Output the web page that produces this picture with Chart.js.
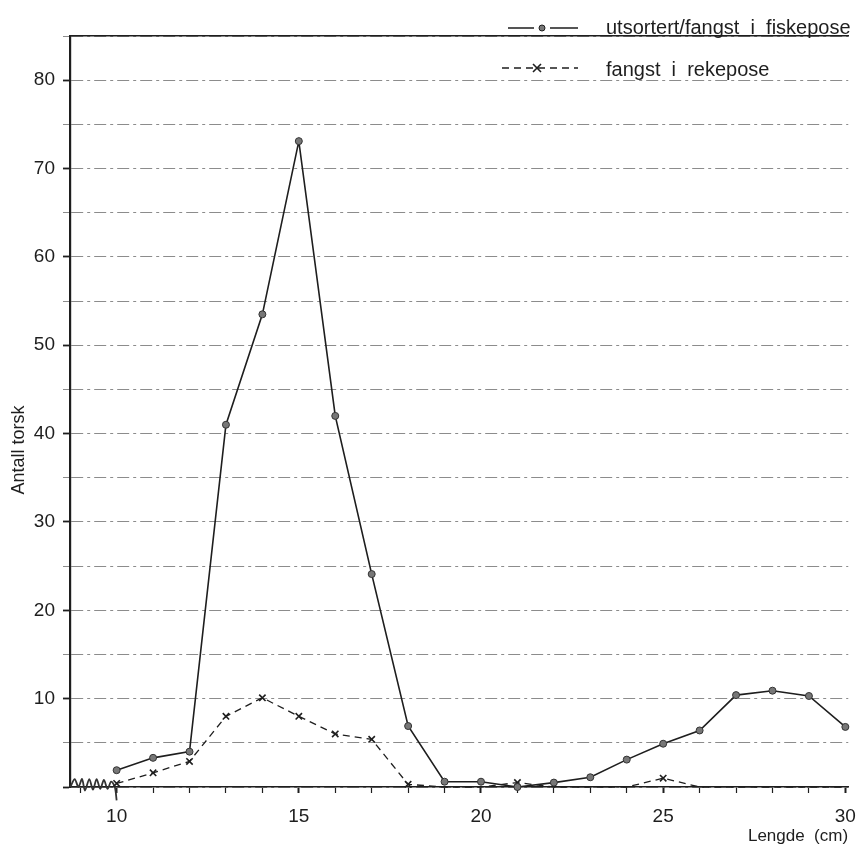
<!DOCTYPE html>
<html>
<head>
<meta charset="utf-8">
<script src="https://cdn.jsdelivr.net/npm/chart.js@4.4.0/dist/chart.umd.min.js"></script>
<style>
  html, body { margin: 0; padding: 0; background: #fff; }
  #wrap { width: 868px; height: 856px; position: relative; }
</style>
</head>
<body>
<div id="wrap"><canvas id="myChart"></canvas></div>
<script>
// lengths (cm)
var lengths = [10, 11, 12, 13, 14, 15, 16, 17, 18, 19, 20, 21, 22, 23, 24, 25, 26, 27, 28, 29, 30];
// utsortert/fangst i fiskepose
var fiskepose = [1.9, 3.3, 4.0, 41.0, 53.5, 73.1, 42.0, 24.1, 6.9, 0.6, 0.6, 0, 0.5, 1.1, 3.1, 4.9, 6.4, 10.4, 10.9, 10.3, 6.8];
// fangst i rekepose
var rekepose = [0.4, 1.6, 2.9, 8.0, 10.1, 8.0, 6.0, 5.4, 0.3, 0, 0, 0.5, 0, 0, 0, 1.0, 0, 0, 0, 0, 0];
// little scribble on the baseline left of 10 cm
var scribbleX = [8.73, 8.85, 8.95, 9.05, 9.13, 9.25, 9.35, 9.45, 9.55, 9.65, 9.75, 9.85, 9.95, 10];
var scribbleY = [0, 0.9, 0, 0.9, -0.4, 0.9, -0.3, 0.9, -0.2, 0.8, -0.2, 0.6, 0, -1.5];

var yTicks = [0, 5, 10, 15, 20, 25, 30, 35, 40, 45, 50, 55, 60, 65, 70, 75, 80, 85];
var xTicks = [9, 10, 11, 12, 13, 14, 15, 16, 17, 18, 19, 20, 21, 22, 23, 24, 25, 26, 27, 28, 29, 30];

var legendLabels = ['utsortert/fangst  i  fiskepose', 'fangst  i  rekepose'];
var xTitle = 'Lengde  (cm)';
var yTitle = 'Antall torsk';

var FONT = "'Liberation Sans', Arial, Helvetica, sans-serif";
var INK = '#1e1e1e';

function pairs(xs, ys) {
    return xs.map(function (x, i) { return {x: x, y: ys[i]}; });
}

var extras = {
    id: 'extras',
    afterDraw: function (chart) {
        var ctx = chart.ctx;
        ctx.save();
        ctx.fillStyle = INK;
        ctx.strokeStyle = INK;
        ctx.font = '20px ' + FONT;
        ctx.textBaseline = 'middle';
        ctx.textAlign = 'left';

        // legend row 1: solid line with dot
        ctx.lineWidth = 1.4;
        ctx.beginPath(); ctx.moveTo(508, 28); ctx.lineTo(534, 28); ctx.moveTo(550, 28); ctx.lineTo(578, 28); ctx.stroke();
        ctx.beginPath(); ctx.arc(542, 28, 3, 0, Math.PI * 2);
        ctx.fillStyle = '#777'; ctx.fill(); ctx.lineWidth = 1; ctx.stroke();
        ctx.fillStyle = INK;
        ctx.fillText(legendLabels[0], 606, 28);

        // legend row 2: dashed line with cross
        ctx.lineWidth = 1.3;
        ctx.setLineDash([7, 5]);
        ctx.beginPath(); ctx.moveTo(502, 68); ctx.lineTo(578, 68); ctx.stroke();
        ctx.setLineDash([]);
        ctx.lineWidth = 1.6;
        ctx.beginPath();
        ctx.moveTo(533, 64); ctx.lineTo(541, 72);
        ctx.moveTo(541, 64); ctx.lineTo(533, 72);
        ctx.stroke();
        ctx.fillText(legendLabels[1], 606, 70);

        // axis titles
        ctx.font = '17px ' + FONT;
        ctx.textAlign = 'center';
        ctx.fillText(xTitle, 798, 836);
        ctx.font = '18px ' + FONT;
        ctx.translate(19, 450);
        ctx.rotate(-Math.PI / 2);
        ctx.fillText(yTitle, 0, 0);
        ctx.restore();
    }
};

var ctx = document.getElementById('myChart');
var myChart = new Chart(ctx, {
    type: 'line',
    data: {
        datasets: [
        {
            label: 'utsortert/fangst i fiskepose',
            data: pairs(lengths, fiskepose),
            borderColor: INK,
            borderWidth: 1.6,
            pointStyle: 'circle',
            pointRadius: 3.5,
            pointBackgroundColor: '#777',
            pointBorderColor: '#333',
            pointBorderWidth: 1,
            tension: 0,
            clip: false
        },
        {
            label: 'fangst i rekepose',
            data: pairs(lengths, rekepose),
            borderColor: INK,
            borderWidth: 1.3,
            borderDash: [7, 5],
            pointStyle: 'crossRot',
            pointRadius: function (c) { return c.raw && c.raw.y > 0 ? 4.5 : 0; },
            pointBorderColor: INK,
            pointBorderWidth: 1.6,
            tension: 0,
            clip: false
        },
        {
            label: 'scribble',
            data: pairs(scribbleX, scribbleY),
            borderColor: '#333',
            borderWidth: 1.8,
            pointRadius: 0,
            tension: 0.3,
            clip: false
        }
        ]
    },
    options: {
        responsive: true,
        maintainAspectRatio: false,
        animation: false,
        layout: { padding: { left: 0, right: 10, top: 36, bottom: 0 } },
        plugins: {
            legend: { display: false },
            title: { display: false },
            tooltip: { enabled: false }
        },
        scales: {
            x: {
                type: 'linear',
                position: 'bottom',
                min: 8.72,
                max: 30.08,
                afterFit: function (s) { s.height = 69; },
                afterBuildTicks: function (s) {
                    s.ticks = xTicks.map(function (v) { return {value: v}; });
                },
                ticks: {
                    autoSkip: false,
                    maxRotation: 0,
                    padding: 12,
                    color: INK,
                    font: { family: FONT, size: 19 },
                    callback: function (v) { return v % 5 === 0 ? v : ''; }
                },
                grid: {
                    drawOnChartArea: false,
                    drawTicks: true,
                    tickLength: 6,
                    tickColor: INK,
                    tickWidth: function (c) { return c.tick && c.tick.value % 5 === 0 ? 2 : 1.2; }
                },
                border: { display: true, color: INK, width: 1.6 }
            },
            xTop: {
                type: 'linear',
                position: 'top',
                min: 8.72,
                max: 30.08,
                afterFit: function (s) { s.height = 0; },
                ticks: { display: false },
                grid: { display: false },
                border: { display: true, color: INK, width: 1.4 }
            },
            y: {
                type: 'linear',
                min: 0,
                max: 85,
                afterFit: function (s) { s.width = 70; },
                afterBuildTicks: function (s) {
                    s.ticks = yTicks.map(function (v) { return {value: v}; });
                },
                ticks: {
                    autoSkip: false,
                    padding: 8,
                    color: INK,
                    font: { family: FONT, size: 19 },
                    callback: function (v) { return (v % 10 === 0 && v > 0 && v <= 80) ? v : ''; }
                },
                grid: {
                    drawOnChartArea: true,
                    color: '#8c8c8c',
                    lineWidth: 1,
                    tickLength: 7,
                    tickColor: function (c) { return c.tick && c.tick.value % 10 === 0 ? INK : '#8c8c8c'; },
                    tickWidth: function (c) { return c.tick && c.tick.value % 10 === 0 ? 1.8 : 1; }
                },
                border: { display: true, color: INK, width: 2.2, dash: [12, 4, 3, 4] }
            }
        }
    },
    plugins: [extras]
});
</script>
</body>
</html>
